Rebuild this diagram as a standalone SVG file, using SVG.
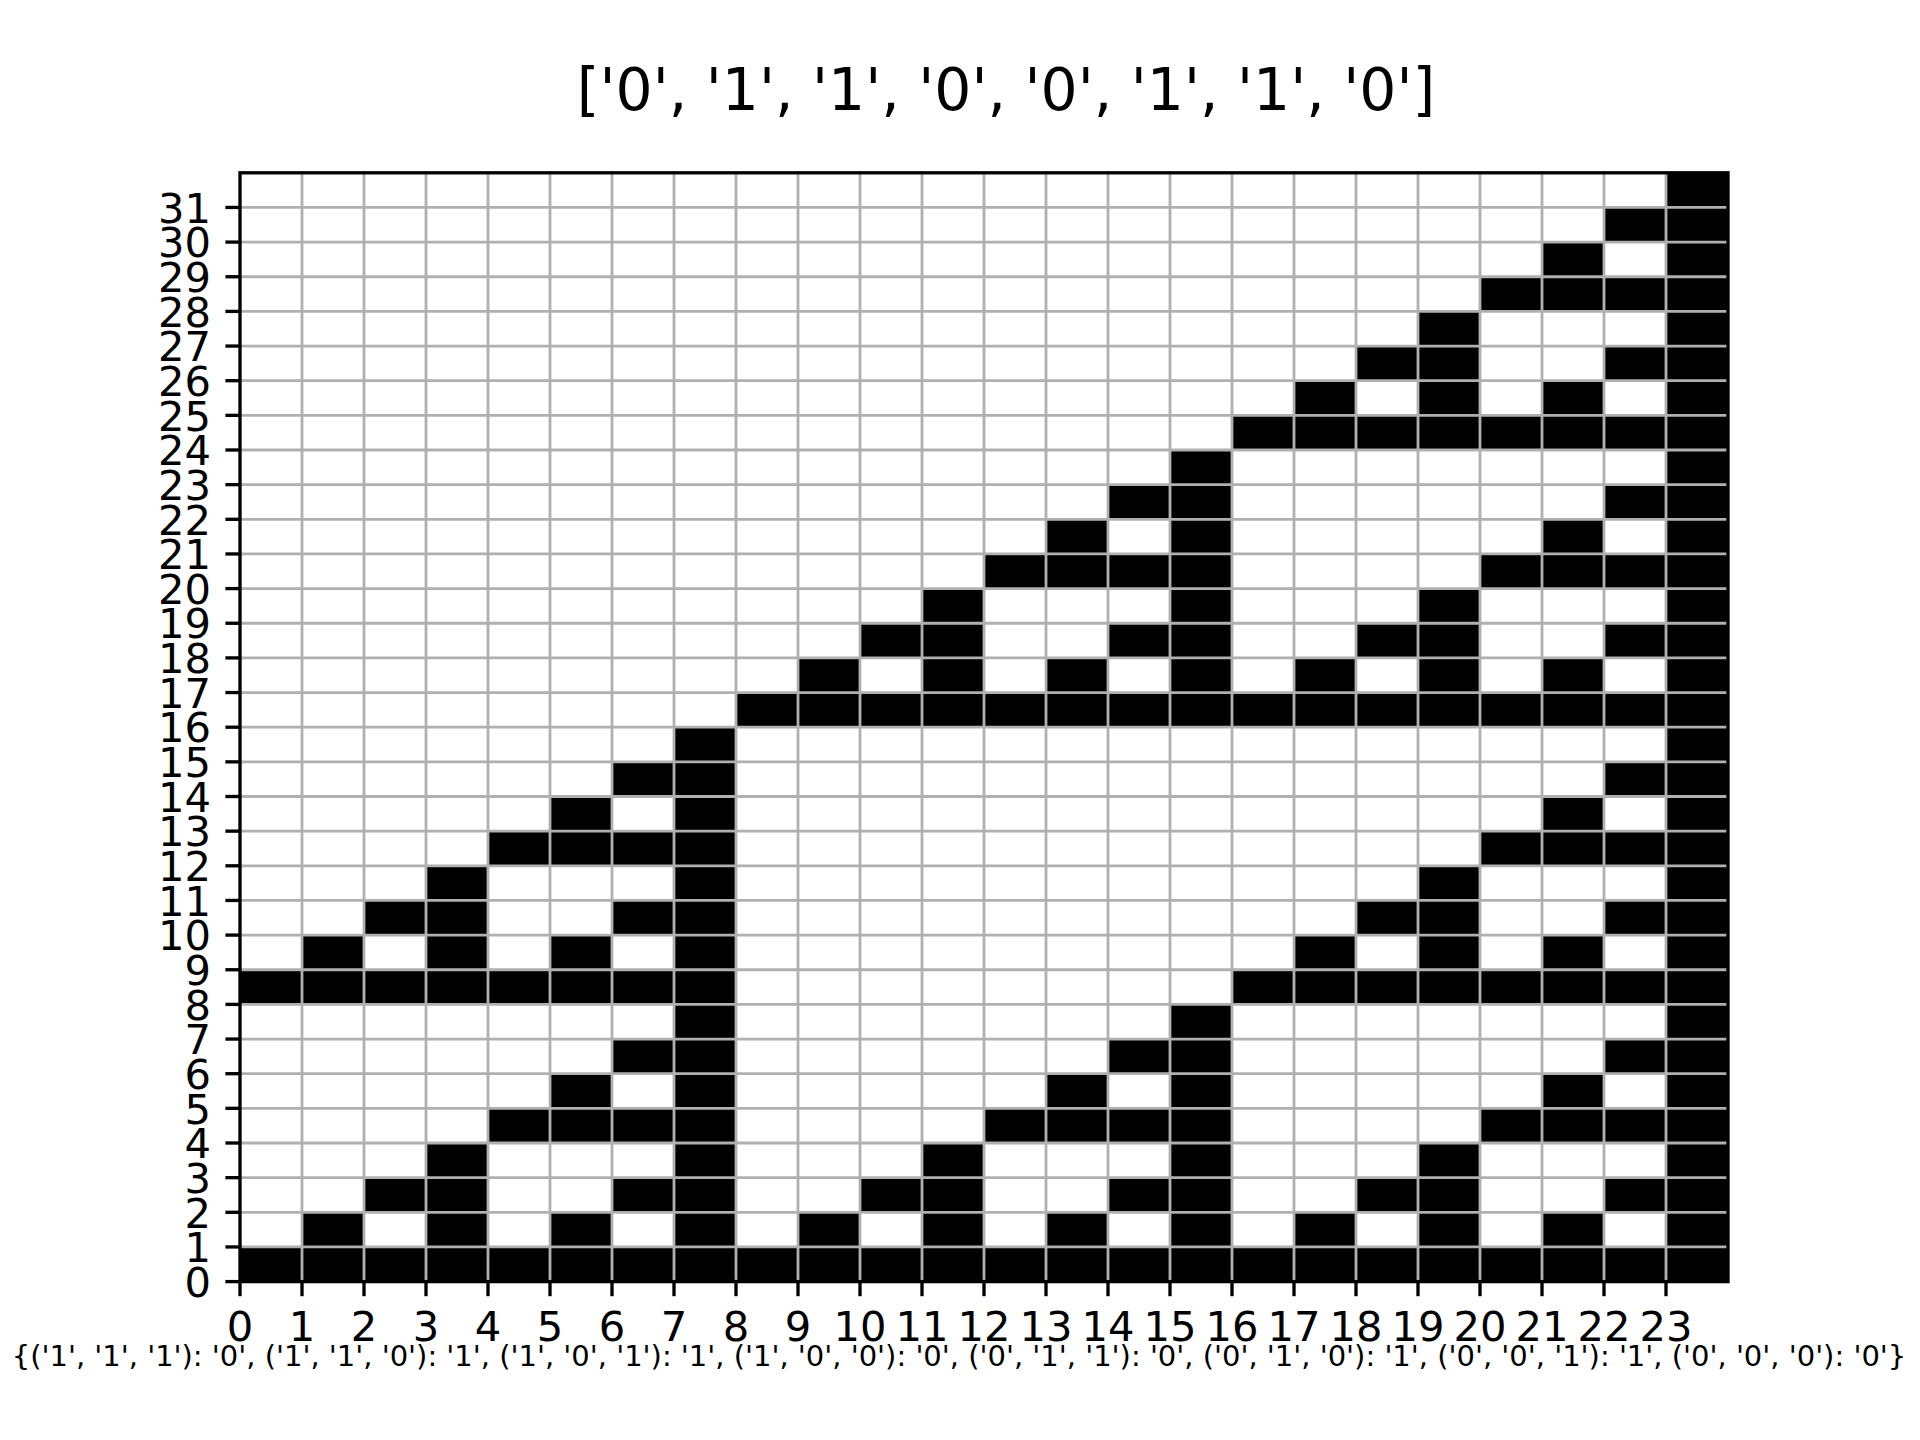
<svg xmlns="http://www.w3.org/2000/svg" width="1920" height="1440" viewBox="0 0 1920 1440">
<style>
text{font-family:"DejaVu Sans","Liberation Sans",sans-serif;fill:#000}
.tl{font-size:41.67px}
.yl{text-anchor:end}
.xl{text-anchor:middle}
.grid line{stroke:#b0b0b0;stroke-width:2.8}
.ticks line{stroke:#000;stroke-width:3.33}
</style>
<rect width="1920" height="1440" fill="#fff"/>
<text x="1006" y="110" font-size="58.33" text-anchor="middle">['0', '1', '1', '0', '0', '1', '1', '0']</text>
<g id="cells" transform="translate(240,1281.6) scale(62,-34.65)" fill="#000">
<rect x="23" y="0" width="1" height="32"/>
<rect x="0" y="0" width="23" height="1"/>
<g transform="translate(0,1)"><rect x="1" width="1" height="1"/><rect x="3" width="1" height="1"/><rect x="5" width="1" height="1"/><rect x="7" width="1" height="1"/><rect x="9" width="1" height="1"/><rect x="11" width="1" height="1"/><rect x="13" width="1" height="1"/><rect x="15" width="1" height="1"/><rect x="17" width="1" height="1"/><rect x="19" width="1" height="1"/><rect x="21" width="1" height="1"/></g>
<g transform="translate(0,2)"><rect x="2" width="2" height="1"/><rect x="6" width="2" height="1"/><rect x="10" width="2" height="1"/><rect x="14" width="2" height="1"/><rect x="18" width="2" height="1"/><rect x="22" width="1" height="1"/></g>
<g transform="translate(0,3)"><rect x="3" width="1" height="1"/><rect x="7" width="1" height="1"/><rect x="11" width="1" height="1"/><rect x="15" width="1" height="1"/><rect x="19" width="1" height="1"/></g>
<g transform="translate(0,4)"><rect x="4" width="4" height="1"/><rect x="12" width="4" height="1"/><rect x="20" width="3" height="1"/></g>
<g transform="translate(0,5)"><rect x="5" width="1" height="1"/><rect x="7" width="1" height="1"/><rect x="13" width="1" height="1"/><rect x="15" width="1" height="1"/><rect x="21" width="1" height="1"/></g>
<g transform="translate(0,6)"><rect x="6" width="2" height="1"/><rect x="14" width="2" height="1"/><rect x="22" width="1" height="1"/></g>
<g transform="translate(0,7)"><rect x="7" width="1" height="1"/><rect x="15" width="1" height="1"/></g>
<g transform="translate(0,8)"><rect x="0" width="8" height="1"/><rect x="16" width="7" height="1"/></g>
<g transform="translate(0,9)"><rect x="1" width="1" height="1"/><rect x="3" width="1" height="1"/><rect x="5" width="1" height="1"/><rect x="7" width="1" height="1"/><rect x="17" width="1" height="1"/><rect x="19" width="1" height="1"/><rect x="21" width="1" height="1"/></g>
<g transform="translate(0,10)"><rect x="2" width="2" height="1"/><rect x="6" width="2" height="1"/><rect x="18" width="2" height="1"/><rect x="22" width="1" height="1"/></g>
<g transform="translate(0,11)"><rect x="3" width="1" height="1"/><rect x="7" width="1" height="1"/><rect x="19" width="1" height="1"/></g>
<g transform="translate(0,12)"><rect x="4" width="4" height="1"/><rect x="20" width="3" height="1"/></g>
<g transform="translate(0,13)"><rect x="5" width="1" height="1"/><rect x="7" width="1" height="1"/><rect x="21" width="1" height="1"/></g>
<g transform="translate(0,14)"><rect x="6" width="2" height="1"/><rect x="22" width="1" height="1"/></g>
<g transform="translate(0,15)"><rect x="7" width="1" height="1"/></g>
<g transform="translate(0,16)"><rect x="8" width="15" height="1"/></g>
<g transform="translate(0,17)"><rect x="9" width="1" height="1"/><rect x="11" width="1" height="1"/><rect x="13" width="1" height="1"/><rect x="15" width="1" height="1"/><rect x="17" width="1" height="1"/><rect x="19" width="1" height="1"/><rect x="21" width="1" height="1"/></g>
<g transform="translate(0,18)"><rect x="10" width="2" height="1"/><rect x="14" width="2" height="1"/><rect x="18" width="2" height="1"/><rect x="22" width="1" height="1"/></g>
<g transform="translate(0,19)"><rect x="11" width="1" height="1"/><rect x="15" width="1" height="1"/><rect x="19" width="1" height="1"/></g>
<g transform="translate(0,20)"><rect x="12" width="4" height="1"/><rect x="20" width="3" height="1"/></g>
<g transform="translate(0,21)"><rect x="13" width="1" height="1"/><rect x="15" width="1" height="1"/><rect x="21" width="1" height="1"/></g>
<g transform="translate(0,22)"><rect x="14" width="2" height="1"/><rect x="22" width="1" height="1"/></g>
<g transform="translate(0,23)"><rect x="15" width="1" height="1"/></g>
<g transform="translate(0,24)"><rect x="16" width="7" height="1"/></g>
<g transform="translate(0,25)"><rect x="17" width="1" height="1"/><rect x="19" width="1" height="1"/><rect x="21" width="1" height="1"/></g>
<g transform="translate(0,26)"><rect x="18" width="2" height="1"/><rect x="22" width="1" height="1"/></g>
<g transform="translate(0,27)"><rect x="19" width="1" height="1"/></g>
<g transform="translate(0,28)"><rect x="20" width="3" height="1"/></g>
<g transform="translate(0,29)"><rect x="21" width="1" height="1"/></g>
<g transform="translate(0,30)"><rect x="22" width="1" height="1"/></g>
</g>
<g id="grid" class="grid">
<line x1="302" y1="172.8" x2="302" y2="1281.6"/><line x1="364" y1="172.8" x2="364" y2="1281.6"/><line x1="426" y1="172.8" x2="426" y2="1281.6"/><line x1="488" y1="172.8" x2="488" y2="1281.6"/><line x1="550" y1="172.8" x2="550" y2="1281.6"/><line x1="612" y1="172.8" x2="612" y2="1281.6"/><line x1="674" y1="172.8" x2="674" y2="1281.6"/><line x1="736" y1="172.8" x2="736" y2="1281.6"/><line x1="798" y1="172.8" x2="798" y2="1281.6"/><line x1="860" y1="172.8" x2="860" y2="1281.6"/><line x1="922" y1="172.8" x2="922" y2="1281.6"/><line x1="984" y1="172.8" x2="984" y2="1281.6"/><line x1="1046" y1="172.8" x2="1046" y2="1281.6"/><line x1="1108" y1="172.8" x2="1108" y2="1281.6"/><line x1="1170" y1="172.8" x2="1170" y2="1281.6"/><line x1="1232" y1="172.8" x2="1232" y2="1281.6"/><line x1="1294" y1="172.8" x2="1294" y2="1281.6"/><line x1="1356" y1="172.8" x2="1356" y2="1281.6"/><line x1="1418" y1="172.8" x2="1418" y2="1281.6"/><line x1="1480" y1="172.8" x2="1480" y2="1281.6"/><line x1="1542" y1="172.8" x2="1542" y2="1281.6"/><line x1="1604" y1="172.8" x2="1604" y2="1281.6"/><line x1="1666" y1="172.8" x2="1666" y2="1281.6"/>
<line x1="240" y1="1246.95" x2="1728" y2="1246.95"/><line x1="240" y1="1212.3" x2="1728" y2="1212.3"/><line x1="240" y1="1177.65" x2="1728" y2="1177.65"/><line x1="240" y1="1143" x2="1728" y2="1143"/><line x1="240" y1="1108.35" x2="1728" y2="1108.35"/><line x1="240" y1="1073.7" x2="1728" y2="1073.7"/><line x1="240" y1="1039.05" x2="1728" y2="1039.05"/><line x1="240" y1="1004.4" x2="1728" y2="1004.4"/><line x1="240" y1="969.75" x2="1728" y2="969.75"/><line x1="240" y1="935.1" x2="1728" y2="935.1"/><line x1="240" y1="900.45" x2="1728" y2="900.45"/><line x1="240" y1="865.8" x2="1728" y2="865.8"/><line x1="240" y1="831.15" x2="1728" y2="831.15"/><line x1="240" y1="796.5" x2="1728" y2="796.5"/><line x1="240" y1="761.85" x2="1728" y2="761.85"/><line x1="240" y1="727.2" x2="1728" y2="727.2"/><line x1="240" y1="692.55" x2="1728" y2="692.55"/><line x1="240" y1="657.9" x2="1728" y2="657.9"/><line x1="240" y1="623.25" x2="1728" y2="623.25"/><line x1="240" y1="588.6" x2="1728" y2="588.6"/><line x1="240" y1="553.95" x2="1728" y2="553.95"/><line x1="240" y1="519.3" x2="1728" y2="519.3"/><line x1="240" y1="484.65" x2="1728" y2="484.65"/><line x1="240" y1="450" x2="1728" y2="450"/><line x1="240" y1="415.35" x2="1728" y2="415.35"/><line x1="240" y1="380.7" x2="1728" y2="380.7"/><line x1="240" y1="346.05" x2="1728" y2="346.05"/><line x1="240" y1="311.4" x2="1728" y2="311.4"/><line x1="240" y1="276.75" x2="1728" y2="276.75"/><line x1="240" y1="242.1" x2="1728" y2="242.1"/><line x1="240" y1="207.45" x2="1728" y2="207.45"/>
</g>
<rect id="frame" x="240" y="172.8" width="1488" height="1108.8" fill="none" stroke="#000" stroke-width="3.33"/>
<g id="xticks" class="ticks">
<line x1="240" y1="1281.6" x2="240" y2="1296.2"/><line x1="302" y1="1281.6" x2="302" y2="1296.2"/><line x1="364" y1="1281.6" x2="364" y2="1296.2"/><line x1="426" y1="1281.6" x2="426" y2="1296.2"/><line x1="488" y1="1281.6" x2="488" y2="1296.2"/><line x1="550" y1="1281.6" x2="550" y2="1296.2"/><line x1="612" y1="1281.6" x2="612" y2="1296.2"/><line x1="674" y1="1281.6" x2="674" y2="1296.2"/><line x1="736" y1="1281.6" x2="736" y2="1296.2"/><line x1="798" y1="1281.6" x2="798" y2="1296.2"/><line x1="860" y1="1281.6" x2="860" y2="1296.2"/><line x1="922" y1="1281.6" x2="922" y2="1296.2"/><line x1="984" y1="1281.6" x2="984" y2="1296.2"/><line x1="1046" y1="1281.6" x2="1046" y2="1296.2"/><line x1="1108" y1="1281.6" x2="1108" y2="1296.2"/><line x1="1170" y1="1281.6" x2="1170" y2="1296.2"/><line x1="1232" y1="1281.6" x2="1232" y2="1296.2"/><line x1="1294" y1="1281.6" x2="1294" y2="1296.2"/><line x1="1356" y1="1281.6" x2="1356" y2="1296.2"/><line x1="1418" y1="1281.6" x2="1418" y2="1296.2"/><line x1="1480" y1="1281.6" x2="1480" y2="1296.2"/><line x1="1542" y1="1281.6" x2="1542" y2="1296.2"/><line x1="1604" y1="1281.6" x2="1604" y2="1296.2"/><line x1="1666" y1="1281.6" x2="1666" y2="1296.2"/>
</g>
<g id="yticks" class="ticks">
<line x1="225.4" y1="1281.6" x2="240" y2="1281.6"/><line x1="225.4" y1="1246.95" x2="240" y2="1246.95"/><line x1="225.4" y1="1212.3" x2="240" y2="1212.3"/><line x1="225.4" y1="1177.65" x2="240" y2="1177.65"/><line x1="225.4" y1="1143" x2="240" y2="1143"/><line x1="225.4" y1="1108.35" x2="240" y2="1108.35"/><line x1="225.4" y1="1073.7" x2="240" y2="1073.7"/><line x1="225.4" y1="1039.05" x2="240" y2="1039.05"/><line x1="225.4" y1="1004.4" x2="240" y2="1004.4"/><line x1="225.4" y1="969.75" x2="240" y2="969.75"/><line x1="225.4" y1="935.1" x2="240" y2="935.1"/><line x1="225.4" y1="900.45" x2="240" y2="900.45"/><line x1="225.4" y1="865.8" x2="240" y2="865.8"/><line x1="225.4" y1="831.15" x2="240" y2="831.15"/><line x1="225.4" y1="796.5" x2="240" y2="796.5"/><line x1="225.4" y1="761.85" x2="240" y2="761.85"/><line x1="225.4" y1="727.2" x2="240" y2="727.2"/><line x1="225.4" y1="692.55" x2="240" y2="692.55"/><line x1="225.4" y1="657.9" x2="240" y2="657.9"/><line x1="225.4" y1="623.25" x2="240" y2="623.25"/><line x1="225.4" y1="588.6" x2="240" y2="588.6"/><line x1="225.4" y1="553.95" x2="240" y2="553.95"/><line x1="225.4" y1="519.3" x2="240" y2="519.3"/><line x1="225.4" y1="484.65" x2="240" y2="484.65"/><line x1="225.4" y1="450" x2="240" y2="450"/><line x1="225.4" y1="415.35" x2="240" y2="415.35"/><line x1="225.4" y1="380.7" x2="240" y2="380.7"/><line x1="225.4" y1="346.05" x2="240" y2="346.05"/><line x1="225.4" y1="311.4" x2="240" y2="311.4"/><line x1="225.4" y1="276.75" x2="240" y2="276.75"/><line x1="225.4" y1="242.1" x2="240" y2="242.1"/><line x1="225.4" y1="207.45" x2="240" y2="207.45"/>
</g>
<g id="xlabels" class="tl xl">
<text x="240" y="1341">0</text><text x="302" y="1341">1</text><text x="364" y="1341">2</text><text x="426" y="1341">3</text><text x="488" y="1341">4</text><text x="550" y="1341">5</text><text x="612" y="1341">6</text><text x="674" y="1341">7</text><text x="736" y="1341">8</text><text x="798" y="1341">9</text><text x="860" y="1341">10</text><text x="922" y="1341">11</text><text x="984" y="1341">12</text><text x="1046" y="1341">13</text><text x="1108" y="1341">14</text><text x="1170" y="1341">15</text><text x="1232" y="1341">16</text><text x="1294" y="1341">17</text><text x="1356" y="1341">18</text><text x="1418" y="1341">19</text><text x="1480" y="1341">20</text><text x="1542" y="1341">21</text><text x="1604" y="1341">22</text><text x="1666" y="1341">23</text>
</g>
<g id="ylabels" class="tl yl">
<text x="211" y="1296.8">0</text><text x="211" y="1262.15">1</text><text x="211" y="1227.5">2</text><text x="211" y="1192.85">3</text><text x="211" y="1158.2">4</text><text x="211" y="1123.55">5</text><text x="211" y="1088.9">6</text><text x="211" y="1054.25">7</text><text x="211" y="1019.6">8</text><text x="211" y="984.95">9</text><text x="211" y="950.3">10</text><text x="211" y="915.65">11</text><text x="211" y="881">12</text><text x="211" y="846.35">13</text><text x="211" y="811.7">14</text><text x="211" y="777.05">15</text><text x="211" y="742.4">16</text><text x="211" y="707.75">17</text><text x="211" y="673.1">18</text><text x="211" y="638.45">19</text><text x="211" y="603.8">20</text><text x="211" y="569.15">21</text><text x="211" y="534.5">22</text><text x="211" y="499.85">23</text><text x="211" y="465.2">24</text><text x="211" y="430.55">25</text><text x="211" y="395.9">26</text><text x="211" y="361.25">27</text><text x="211" y="326.6">28</text><text x="211" y="291.95">29</text><text x="211" y="257.3">30</text><text x="211" y="222.65">31</text>
</g>
<text x="959" y="1366" font-size="29" text-anchor="middle">{('1', '1', '1'): '0', ('1', '1', '0'): '1', ('1', '0', '1'): '1', ('1', '0', '0'): '0', ('0', '1', '1'): '0', ('0', '1', '0'): '1', ('0', '0', '1'): '1', ('0', '0', '0'): '0'}</text>
</svg>
